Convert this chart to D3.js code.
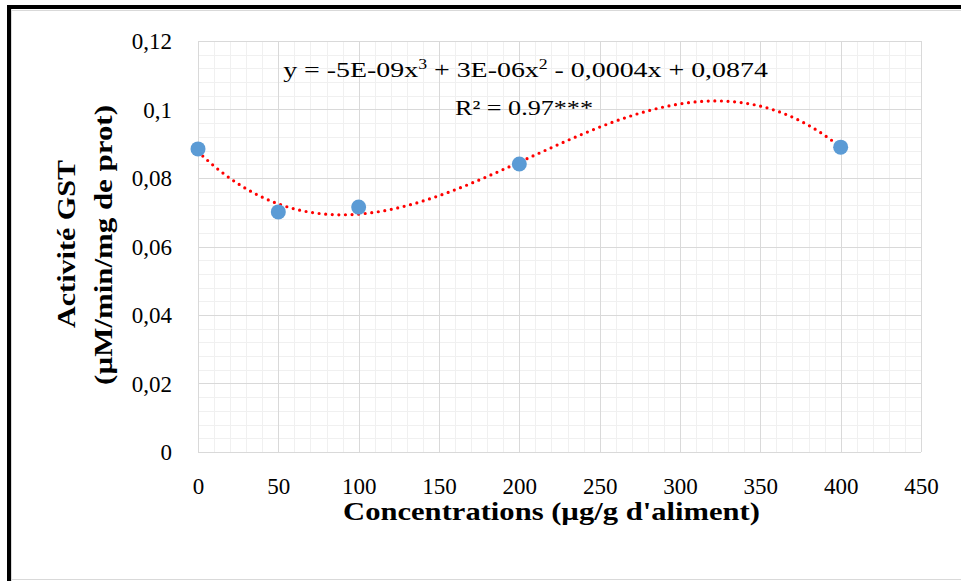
<!DOCTYPE html>
<html>
<head>
<meta charset="utf-8">
<script src="https://cdn.jsdelivr.net/npm/d3@7"></script>
<style>
  html, body { margin: 0; padding: 0; background: #fff; }
  svg { display: block; }
  text { font-family: "Liberation Serif", "DejaVu Serif", serif; fill: #000; }
</style>
</head>
<body>
<svg id="chart" width="961" height="581"></svg>
<script>
// GST activity measured at each dietary concentration
const concentrations = [0, 50, 100, 200, 400];
const gstActivity = [0.0885, 0.0701, 0.0715, 0.0841, 0.0890];

// Axis ticks
const xTicks = [0, 50, 100, 150, 200, 250, 300, 350, 400, 450];
const yTicks = [0, 0.02, 0.04, 0.06, 0.08, 0.1, 0.12];

// Trend-line annotation
const equationParts = ["y = -5E-09x", "3", " + 3E-06x", "2", " - 0,0004x + 0,0874"];
const r2Label = "R² = 0.97***";

const xTitle = "Concentrations (µg/g d'aliment)";
const yTitleLines = ["Activité GST", "(µM/min/mg de prot)"];

const W = 961, H = 581;
const plot = { left: 198, right: 921, top: 41, bottom: 452 };

const svg = d3.select("#chart");
svg.append("rect").attr("width", W).attr("height", H).attr("fill", "#fff");

// Frame around the chart
svg.append("line").attr("x1", 7).attr("x2", W).attr("y1", 10.5).attr("y2", 10.5)
  .attr("stroke", "#d9d9d9").attr("stroke-width", 1);
svg.append("line").attr("x1", 11.5).attr("x2", 11.5).attr("y1", 7).attr("y2", H)
  .attr("stroke", "#d9d9d9").attr("stroke-width", 1);
svg.append("line").attr("x1", 7).attr("x2", W).attr("y1", 579.5).attr("y2", 579.5)
  .attr("stroke", "#d9d9d9").attr("stroke-width", 1);
svg.append("rect").attr("x", 7).attr("y", 5).attr("width", W - 7).attr("height", 4).attr("fill", "#000");
svg.append("rect").attr("x", 7).attr("y", 5).attr("width", 4).attr("height", H - 5).attr("fill", "#000");

const x = d3.scaleLinear().domain([0, 450]).range([plot.left, plot.right]);
const y = d3.scaleLinear().domain([0, 0.12]).range([plot.bottom, plot.top]);

// Minor grid
const g = svg.append("g");
const xMinor = d3.range(0, 450.001, 10).filter(v => v % 50 !== 0);
const yMinor = d3.range(0, 0.12001, 0.004).filter(v => Math.abs(v / 0.02 - Math.round(v / 0.02)) > 1e-6);
g.selectAll(".xminor").data(xMinor).join("line")
  .attr("x1", d => Math.round(x(d)) + 0.5).attr("x2", d => Math.round(x(d)) + 0.5)
  .attr("y1", plot.top).attr("y2", plot.bottom)
  .attr("stroke", "#f0f0f0").attr("stroke-width", 1);
g.selectAll(".yminor").data(yMinor).join("line")
  .attr("y1", d => Math.round(y(d)) + 0.5).attr("y2", d => Math.round(y(d)) + 0.5)
  .attr("x1", plot.left).attr("x2", plot.right)
  .attr("stroke", "#f0f0f0").attr("stroke-width", 1);

// Major grid
g.selectAll(".xmajor").data(xTicks).join("line")
  .attr("x1", d => Math.round(x(d)) + 0.5).attr("x2", d => Math.round(x(d)) + 0.5)
  .attr("y1", plot.top).attr("y2", plot.bottom)
  .attr("stroke", "#d9d9d9").attr("stroke-width", 1);
g.selectAll(".ymajor").data(yTicks).join("line")
  .attr("y1", d => Math.round(y(d)) + 0.5).attr("y2", d => Math.round(y(d)) + 0.5)
  .attr("x1", plot.left).attr("x2", plot.right)
  .attr("stroke", "#d9d9d9").attr("stroke-width", 1);

// Axis tick labels
const fr = d3.formatLocale({ decimal: ",", thousands: " ", grouping: [3], currency: ["", " €"] });
const fmtY = fr.format(".2~f");

const xAxis = d3.axisBottom(x).tickValues(xTicks).tickSize(0).tickPadding(0);
const yAxis = d3.axisLeft(y).tickValues(yTicks).tickSize(0).tickPadding(0).tickFormat(fmtY);

svg.append("g").attr("transform", `translate(0,${plot.bottom})`).call(xAxis)
  .call(s => s.select(".domain").remove())
  .call(s => s.selectAll("text").attr("y", 42).attr("dy", null)
    .style("font-family", "'Liberation Serif', serif").style("font-size", "23px").attr("fill", "#000"));

svg.append("g").attr("transform", `translate(${plot.left},0)`).call(yAxis)
  .call(s => s.select(".domain").remove())
  .call(s => s.selectAll("text").attr("x", -26).attr("dy", "0.33em")
    .style("font-family", "'Liberation Serif', serif").style("font-size", "23px").attr("fill", "#000"));

// Cubic least-squares fit through the measured points (x in hundreds for conditioning)
function polyfit(xs, ys, deg) {
  const n = deg + 1;
  const A = Array.from({ length: n }, () => new Array(n + 1).fill(0));
  xs.forEach((xv, k) => {
    for (let i = 0; i < n; i++) {
      for (let j = 0; j < n; j++) A[i][j] += Math.pow(xv, i + j);
      A[i][n] += ys[k] * Math.pow(xv, i);
    }
  });
  for (let c = 0; c < n; c++) {
    let p = c;
    for (let r = c + 1; r < n; r++) if (Math.abs(A[r][c]) > Math.abs(A[p][c])) p = r;
    [A[c], A[p]] = [A[p], A[c]];
    for (let r = 0; r < n; r++) {
      if (r === c) continue;
      const f = A[r][c] / A[c][c];
      for (let k = c; k <= n; k++) A[r][k] -= f * A[c][k];
    }
  }
  return A.map((row, i) => row[n] / row[i]);
}
const coef = polyfit(concentrations.map(v => v / 100), gstActivity, 3);
const trend = v => coef.reduce((s, c, i) => s + c * Math.pow(v / 100, i), 0);
const trendX = d3.range(0, 400.001, 2);

svg.append("path")
  .datum(trendX)
  .attr("d", d3.line().x(d => x(d)).y(d => y(trend(d))))
  .attr("fill", "none")
  .attr("stroke", "#ff0000")
  .attr("stroke-width", 3.2)
  .attr("stroke-linecap", "round")
  .attr("stroke-dasharray", "0 6.6");

// Data points
svg.append("g").selectAll("circle")
  .data(concentrations.map((c, i) => [c, gstActivity[i]]))
  .join("circle")
  .attr("cx", d => x(d[0]))
  .attr("cy", d => y(d[1]))
  .attr("r", 7.5)
  .attr("fill", "#5b9bd5");

// Stretch a centred label horizontally so it spans the given width
function fitWidth(holder, width) {
  const t = holder.select("text");
  const w = t.node().getBBox().width;
  const s = width / w;
  t.attr("transform", `scale(${s},1)`);
}

// Trend-line equation and R²
const eqG = svg.append("g").attr("transform", "translate(525.5,77)");
const eq = eqG.append("text").attr("text-anchor", "middle").style("font-size", "22px");
equationParts.forEach((t, i) => {
  const sup = i % 2 === 1;
  eq.append("tspan")
    .text(t)
    .attr("dy", sup ? -8 : (i > 0 ? 8 : 0))
    .style("font-size", sup ? "14px" : "22px");
});
fitWidth(eqG, 485);

const r2G = svg.append("g").attr("transform", "translate(524,115)");
r2G.append("text").attr("text-anchor", "middle").style("font-size", "22px").text(r2Label);
fitWidth(r2G, 138);

// Axis titles
const xtG = svg.append("g").attr("transform", "translate(551.5,520)");
xtG.append("text").attr("text-anchor", "middle")
  .style("font-size", "26px").style("font-weight", "bold").text(xTitle);
fitWidth(xtG, 417);

const yLine1 = svg.append("g").attr("transform", "translate(75,244) rotate(-90)");
yLine1.append("text").attr("text-anchor", "middle")
  .style("font-size", "26px").style("font-weight", "bold").text(yTitleLines[0]);
fitWidth(yLine1, 168);

const yLine2 = svg.append("g").attr("transform", "translate(112,245) rotate(-90)");
yLine2.append("text").attr("text-anchor", "middle")
  .style("font-size", "26px").style("font-weight", "bold").text(yTitleLines[1]);
fitWidth(yLine2, 280);
</script>
</body>
</html>
